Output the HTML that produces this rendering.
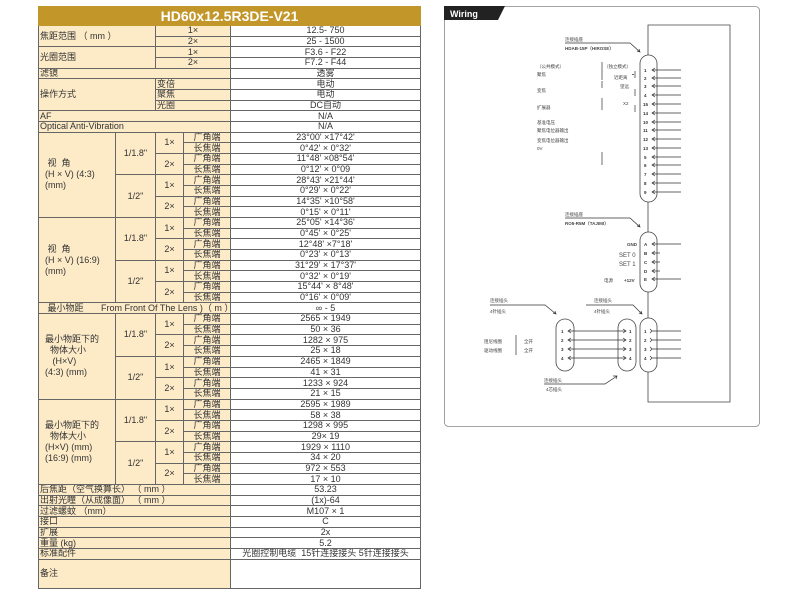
<!DOCTYPE html>
<html><head><meta charset="utf-8">
<style>
body{margin:0;width:800px;height:593px;background:#fff;position:relative;overflow:hidden;font-family:"Liberation Sans","Noto Sans CJK SC",sans-serif;}
table{position:absolute;left:38px;top:6px;width:382px;border-collapse:collapse;table-layout:fixed;font-size:9px;line-height:9px;color:#333;}
td{padding:0;border:1px solid #666;background:#fdebc8;overflow:hidden;white-space:nowrap;height:9.68px;}
td.v{background:#fff;text-align:center;}
td.c{text-align:center;}
td.h{background:#c3962a;color:#fff;font-weight:bold;font-size:14px;text-align:center;height:18px;border-color:#c3962a;}
td.l{padding-left:1px;}
td.big{padding-left:6px;line-height:11px;white-space:normal;}
</style></head><body>
<table>
<colgroup><col style="width:77px"><col style="width:40px"><col style="width:28px"><col style="width:47px"><col style="width:190px"></colgroup>
<tr><td class="h" colspan="5">HD60x12.5R3DE-V21</td></tr>
<tr><td class="l" colspan="2" rowspan="2">焦距范围 （ mm ）</td><td class="c" colspan="2">1×</td><td class="v">12.5- 750</td></tr>
<tr><td class="c" colspan="2">2×</td><td class="v">25 - 1500</td></tr>
<tr><td class="l" colspan="2" rowspan="2">光圈范围</td><td class="c" colspan="2">1×</td><td class="v">F3.6 - F22</td></tr>
<tr><td class="c" colspan="2">2×</td><td class="v">F7.2 - F44</td></tr>
<tr><td class="l" colspan="4">滤镜</td><td class="v">透雾</td></tr>
<tr><td class="l" colspan="2" rowspan="3">操作方式</td><td class="l" colspan="2">变倍</td><td class="v">电动</td></tr>
<tr><td class="l" colspan="2">聚焦</td><td class="v">电动</td></tr>
<tr><td class="l" colspan="2">光圈</td><td class="v">DC自动</td></tr>
<tr><td class="l" colspan="4">AF</td><td class="v">N/A</td></tr>
<tr><td class="l" colspan="4">Optical Anti-Vibration</td><td class="v">N/A</td></tr>

<tr><td class="big" rowspan="8">&nbsp;视&nbsp;&nbsp;角<br>(H × V) (4:3)<br>(mm)</td><td class="c" rowspan="4">1/1.8"</td><td class="c" rowspan="2">1×</td><td class="c">广角端</td><td class="v">23°00' ×17°42'</td></tr>
<tr><td class="c">长焦端</td><td class="v">0°42' × 0°32'</td></tr>
<tr><td class="c" rowspan="2">2×</td><td class="c">广角端</td><td class="v">11°48' ×08°54'</td></tr>
<tr><td class="c">长焦端</td><td class="v">0°12' × 0°09</td></tr>
<tr><td class="c" rowspan="4">1/2"</td><td class="c" rowspan="2">1×</td><td class="c">广角端</td><td class="v">28°43' ×21°44'</td></tr>
<tr><td class="c">长焦端</td><td class="v">0°29' × 0°22'</td></tr>
<tr><td class="c" rowspan="2">2×</td><td class="c">广角端</td><td class="v">14°35' ×10°58'</td></tr>
<tr><td class="c">长焦端</td><td class="v">0°15' × 0°11'</td></tr>

<tr><td class="big" rowspan="8">&nbsp;视&nbsp;&nbsp;角<br>(H × V) (16:9)<br>(mm)</td><td class="c" rowspan="4">1/1.8"</td><td class="c" rowspan="2">1×</td><td class="c">广角端</td><td class="v">25°05' ×14°36'</td></tr>
<tr><td class="c">长焦端</td><td class="v">0°45' × 0°25'</td></tr>
<tr><td class="c" rowspan="2">2×</td><td class="c">广角端</td><td class="v">12°48' ×7°18'</td></tr>
<tr><td class="c">长焦端</td><td class="v">0°23' × 0°13'</td></tr>
<tr><td class="c" rowspan="4">1/2"</td><td class="c" rowspan="2">1×</td><td class="c">广角端</td><td class="v">31°29' × 17°37'</td></tr>
<tr><td class="c">长焦端</td><td class="v">0°32' × 0°19'</td></tr>
<tr><td class="c" rowspan="2">2×</td><td class="c">广角端</td><td class="v">15°44' × 8°48'</td></tr>
<tr><td class="c">长焦端</td><td class="v">0°16' × 0°09'</td></tr>

<tr><td class="l" colspan="4">&nbsp;&nbsp;&nbsp;最小物距&nbsp;&nbsp;&nbsp;&nbsp;&nbsp;&nbsp;&nbsp;From Front Of The Lens )（ m ）</td><td class="v">∞ - 5</td></tr>

<tr><td class="big" rowspan="8">最小物距下的<br>&nbsp;&nbsp;物体大小<br>&nbsp;&nbsp;&nbsp;(H×V)<br>(4:3) (mm)</td><td class="c" rowspan="4">1/1.8"</td><td class="c" rowspan="2">1×</td><td class="c">广角端</td><td class="v">2565 × 1949</td></tr>
<tr><td class="c">长焦端</td><td class="v">50 × 36</td></tr>
<tr><td class="c" rowspan="2">2×</td><td class="c">广角端</td><td class="v">1282 × 975</td></tr>
<tr><td class="c">长焦端</td><td class="v">25 × 18</td></tr>
<tr><td class="c" rowspan="4">1/2"</td><td class="c" rowspan="2">1×</td><td class="c">广角端</td><td class="v">2465 × 1849</td></tr>
<tr><td class="c">长焦端</td><td class="v">41 × 31</td></tr>
<tr><td class="c" rowspan="2">2×</td><td class="c">广角端</td><td class="v">1233 × 924</td></tr>
<tr><td class="c">长焦端</td><td class="v">21 × 15</td></tr>

<tr><td class="big" rowspan="8">最小物距下的<br>&nbsp;&nbsp;物体大小<br>(H×V) (mm)<br>(16:9) (mm)</td><td class="c" rowspan="4">1/1.8"</td><td class="c" rowspan="2">1×</td><td class="c">广角端</td><td class="v">2595 × 1989</td></tr>
<tr><td class="c">长焦端</td><td class="v">58 × 38</td></tr>
<tr><td class="c" rowspan="2">2×</td><td class="c">广角端</td><td class="v">1298 × 995</td></tr>
<tr><td class="c">长焦端</td><td class="v">29× 19</td></tr>
<tr><td class="c" rowspan="4">1/2"</td><td class="c" rowspan="2">1×</td><td class="c">广角端</td><td class="v">1929 × 1110</td></tr>
<tr><td class="c">长焦端</td><td class="v">34 × 20</td></tr>
<tr><td class="c" rowspan="2">2×</td><td class="c">广角端</td><td class="v">972 × 553</td></tr>
<tr><td class="c">长焦端</td><td class="v">17 × 10</td></tr>

<tr><td class="l" colspan="4">后焦距（空气换算长）&nbsp;（ mm ）</td><td class="v">53.23</td></tr>
<tr><td class="l" colspan="4">出射光瞳（从成像面）&nbsp;（ mm ）</td><td class="v">(1x)-64</td></tr>
<tr><td class="l" colspan="4">过滤螺蚊 （mm）</td><td class="v">M107 × 1</td></tr>
<tr><td class="l" colspan="4">接口</td><td class="v">C</td></tr>
<tr><td class="l" colspan="4">扩展</td><td class="v">2x</td></tr>
<tr><td class="l" colspan="4">重量 (kg)</td><td class="v">5.2</td></tr>
<tr><td class="l" colspan="4">标准配件</td><td class="v">光圈控制电缆&nbsp;&nbsp;15针连接接头 5针连接接头</td></tr>
<tr><td class="l" colspan="4" style="height:28px">备注</td><td class="v" style="height:28px"></td></tr>
</table>

<svg style="position:absolute;left:0;top:0" width="800" height="593" font-family="Liberation Sans,Noto Sans CJK SC,sans-serif" fill="none" stroke="#444" stroke-width="0.8">
<rect x="444.5" y="6.5" width="315" height="420" rx="4" stroke="#888"/>
<path d="M444 6 H505 L498 20 H444 Z" fill="#222" stroke="none"/>
<text x="450" y="17" fill="#fff" stroke="none" font-size="9" font-weight="bold">Wiring</text>
<!-- big rectangle -->
<path d="M648 55 V25 H730 V402 H648 V372 M648 202 V232 M648 292 V318"/>
<!-- capsules -->
<rect x="640" y="55" width="17" height="147" rx="8.5" fill="#fff"/>
<rect x="640" y="232" width="17" height="60" rx="8.5" fill="#fff"/>
<rect x="640" y="318" width="17" height="54" rx="8.5" fill="#fff"/>
<rect x="556" y="319" width="18" height="52" rx="9" fill="#fff"/>
<rect x="618" y="319" width="18" height="52" rx="9" fill="#fff"/>
<g stroke="#333" stroke-width="0.7">
<path d="M681 70H652 M655 68L652 70L655 72 M681 78H652 M655 76L652 78L655 80 M681 86H652 M655 84L652 86L655 88 M681 95H652 M655 93L652 95L655 97 M681 104H652 M655 102L652 104L655 106 M681 113H652 M655 111L652 113L655 115 M681 122H652 M655 120L652 122L655 124 M681 130H652 M655 128L652 130L655 132 M681 139H652 M655 137L652 139L655 141 M681 148H652 M655 146L652 148L655 150 M681 157H652 M655 155L652 157L655 159 M681 165H652 M655 163L652 165L655 167 M681 174H652 M655 172L652 174L655 176 M681 183H652 M655 181L652 183L655 185 M681 192H652 M655 190L652 192L655 194"/>
<path d="M681 244H652 M655 242L652 244L655 246 M660 253H652 M655 251L652 253L655 255 M660 262H652 M655 260L652 262L655 264 M660 271H652 M655 269L652 271L655 273 M681 279H652 M655 277L652 279L655 281"/>
<path d="M681 331H652 M650 329L652 331L650 333 M681 340H652 M650 338L652 340L650 342 M681 349H652 M650 347L652 349L650 351 M681 358H652 M650 356L652 358L650 360"/>
<path d="M568 331H626 M571 329L568 331L571 333 M623 329L626 331L623 333 M568 340H626 M571 338L568 340L571 342 M623 338L626 340L623 342 M568 349H626 M571 347L568 349L571 351 M623 347L626 349L623 351 M568 358H626 M571 356L568 358L571 360 M623 356L626 358L623 360"/>
<!-- leader lines -->
<path d="M565 43H630L640 52 M637 51L640 52L639 49"/>
<path d="M565 218H630L640 227 M637 226L640 227L639 224"/>
<path d="M490 305H545L556 314 M553 313L556 314L555 311"/>
<path d="M586 305H633L642 314 M639 313L642 314L641 311"/>
<path d="M544 384H605L617 376 M613 376L617 376L616 379"/>
<path d="M635 71V78 M632 74.5H634 M635 89V96 M635 105V112"/>
<path d="M602 62V80 M602 81V88 M602 98V110 M602 152V165 M516 335V355"/>
</g>
<g fill="#444" stroke="none" font-size="4.5">
<text x="565" y="41">连接插座</text>
<text x="565" y="50" font-weight="bold">HDAB-15P（HIROSE）</text>
<text x="537" y="68">（公共模式）</text><text x="604" y="68">（独立模式）</text>
<text x="537" y="76">聚焦</text><text x="614" y="79">近距离</text>
<text x="537" y="92">变焦</text><text x="620" y="88">望远</text>
<text x="537" y="109">扩展器</text><text x="623" y="105">X2</text>
<text x="537" y="124">基准电压</text><text x="537" y="132">聚焦电位器输出</text>
<text x="537" y="142">变焦电位器输出</text><text x="537" y="150">0V</text>
<text x="565" y="216">连接插座</text>
<text x="565" y="225" font-weight="bold">RO5-R5M（TAJIMI）</text>
<text x="627" y="246" font-weight="bold">GND</text>
<text x="619" y="257" font-size="6">SET 0</text>
<text x="619" y="266" font-size="6">SET 1</text>
<text x="604" y="282">电源</text><text x="624" y="282" font-weight="bold">+12V</text>
<text x="490" y="302">连接插头</text><text x="490" y="313">4针插头</text>
<text x="594" y="302">连接插头</text><text x="594" y="313">4针插头</text>
<text x="484" y="343">阻尼线圈</text><text x="524" y="343">全开</text>
<text x="484" y="352">驱动线圈</text><text x="524" y="352">全开</text>
<text x="544" y="382">连接插头</text><text x="546" y="391">4芯插头</text>
</g>
<g fill="#333" stroke="none" font-size="4.5" font-weight="bold">
<text x="644" y="72">1</text><text x="644" y="80">2</text><text x="644" y="88">3</text><text x="644" y="97">4</text>
<text x="643" y="106">15</text><text x="643" y="115">14</text><text x="643" y="124">10</text><text x="643" y="132">11</text>
<text x="643" y="141">12</text><text x="643" y="150">13</text><text x="644" y="159">5</text><text x="644" y="167">6</text>
<text x="644" y="176">7</text><text x="644" y="185">8</text><text x="644" y="194">9</text>
<text x="644" y="246">A</text><text x="644" y="255">B</text><text x="644" y="264">C</text><text x="644" y="273">D</text><text x="644" y="281">E</text>
<text x="644" y="333">1</text><text x="644" y="342">2</text><text x="644" y="351">3</text><text x="644" y="360">4</text>
<text x="561" y="333">1</text><text x="561" y="342">2</text><text x="561" y="351">3</text><text x="561" y="360">4</text>
<text x="629" y="333">1</text><text x="629" y="342">2</text><text x="629" y="351">3</text><text x="629" y="360">4</text>
</g>
</svg>
</body></html>
